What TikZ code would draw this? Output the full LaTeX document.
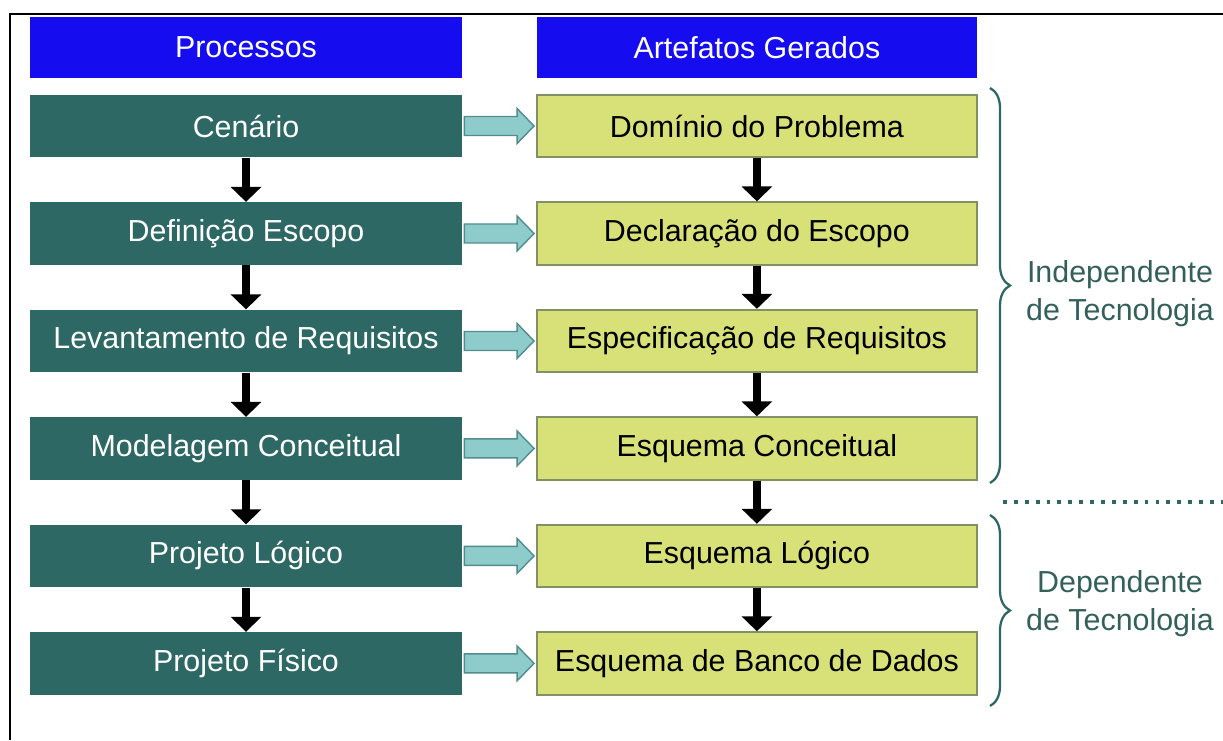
\documentclass[tikz,border=0pt]{standalone}
\usepackage{fontspec}
\setmainfont{Liberation Sans}
\usetikzlibrary{positioning,calc,arrows.meta,decorations.pathreplacing}

\definecolor{azulcab}{RGB}{22,12,240}
\definecolor{verdeproc}{RGB}{46,104,100}
\definecolor{amareloart}{RGB}{216,224,120}
\definecolor{bordaart}{RGB}{130,145,100}
\definecolor{setafill}{RGB}{142,204,204}
\definecolor{setaborda}{RGB}{82,140,140}
\definecolor{textolado}{RGB}{52,96,90}

\tikzset{
  fonte/.style={font=\fontsize{17.3pt}{21.5pt}\selectfont},
  cabecalho/.style={rectangle, fill=azulcab, text=white, minimum height=1.22cm, fonte},
  processo/.style={rectangle, fill=verdeproc, text=white, minimum width=8.64cm, minimum height=1.25cm, fonte},
  artefato/.style={rectangle, fill=amareloart, draw=bordaart, line width=1pt, text=black, minimum width=8.8cm, minimum height=1.25cm, fonte},
  seta/.style={draw=setaborda, fill=setafill, line width=0.8pt,
    to path={let \p1=(\tikztostart), \p2=(\tikztotarget) in
      (\x1+0.04cm,\y1+0.19cm) -- (\x2-0.38cm,\y1+0.19cm) -- (\x2-0.38cm,\y1+0.35cm)
      -- (\x2-0.04cm,\y1) -- (\x2-0.38cm,\y1-0.35cm) -- (\x2-0.38cm,\y1-0.19cm)
      -- (\x1+0.04cm,\y1-0.19cm) -- cycle}},
  desce/.style={draw=black, line width=5pt, -{Triangle[length=8.5pt,width=17pt]}},
  chave/.style={draw=verdeproc, line width=1.3pt, decorate, decoration={brace, amplitude=0.4cm}},
  lado/.style={text=textolado, align=center, fonte},
}

\begin{document}
\begin{tikzpicture}[x=0.02cm, y=-0.02cm, node distance=2.15cm]
			\useasboundingbox (0,0) rectangle (1223,740);
			\draw[line width=1.2pt] (10,740) -- (10,14) -- (1223,14);

			% processos
			\node[processo] (cenario) at (246,126) {Cenário};
			\node[processo] (escopo)[below of = cenario] {Definição Escopo};
			\node[processo] (levant)[below of = escopo] {Levantamento de Requisitos};
			\node[processo] (modcon)[below of = levant] {Modelagem Conceitual};
			\node[processo] (projlog)[below of = modcon] {Projeto Lógico};
			\node[processo] (projfis)[below of = projlog] {Projeto Físico};

			% artefatos
			\node[artefato] (dominio)[right of = cenario, node distance=10.22cm] {Domínio do Problema};
			\node[artefato] (declar)[below of = dominio] {Declaração do Escopo};
			\node[artefato] (especif)[below of = declar] {Especificação de Requisitos};
			\node[artefato] (esqcon)[below of = especif] {Esquema Conceitual};
			\node[artefato] (esqlog)[below of = esqcon] {Esquema Lógico};
			\node[artefato] (esqbd)[below of = esqlog] {Esquema de Banco de Dados};

			\node[cabecalho, minimum width=8.64cm] (processos)[above of = cenario, node distance=1.57cm] {Processos};
			\node[cabecalho, minimum width=8.8cm] (artefatos)[above of = dominio, node distance=1.57cm] {Artefatos Gerados};

			\path
				(cenario.east) edge[seta] (dominio.west)
				(escopo.east) edge[seta] (declar.west)
				(levant.east) edge[seta] (especif.west)
				(modcon.east) edge[seta] (esqcon.west)
				(projlog.east) edge[seta] (esqlog.west)
				(projfis.east) edge[seta] (esqbd.west)
			;

			\path[desce]
				(cenario) edge (escopo)
				(escopo) edge (levant)
				(levant) edge (modcon)
				(modcon) edge (projlog)
				(projlog) edge (projfis)
				(dominio) edge (declar)
				(declar) edge (especif)
				(especif) edge (esqcon)
				(esqcon) edge (esqlog)
				(esqlog) edge (esqbd)
			;

			% chaves
			\draw[chave] (990,88) -- (990,483);
			\draw[chave] (990,515) -- (990,706);
			\draw[verdeproc, line width=2pt, dash pattern=on 2.2pt off 4pt] (1003,502) -- (1223,502);

			\node[lado] (indep) at (1120,294) {Independente\\de Tecnologia};
			\node[lado] (dep) at (1120,604) {Dependente\\de Tecnologia};
		\end{tikzpicture}
\end{document}
